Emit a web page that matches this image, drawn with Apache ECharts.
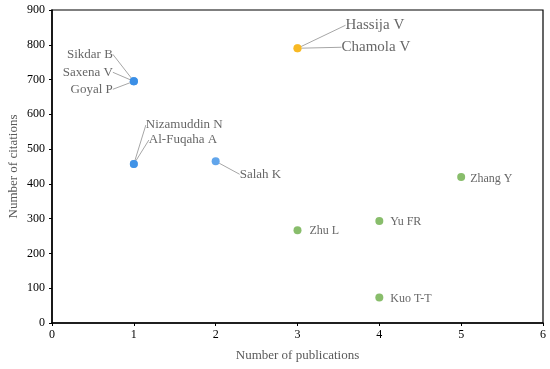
<!DOCTYPE html>
<html><head><meta charset="utf-8">
<script src="https://cdn.jsdelivr.net/npm/echarts@6/dist/echarts.min.js"></script>
<style>html,body{margin:0;padding:0;background:#fff}#c{width:550px;height:369px}</style>
</head><body><div id="c"></div>
<script>
// Data
const blueNames = ['Sikdar B','Saxena V','Goyal P','Nizamuddin N','Al-Fuqaha A','Salah K'];
const blueValues = [[1,695],[1,695],[1,695],[1,457],[1,457],[2,465]];
const yellowNames = ['Hassija V','Chamola V'];
const yellowValues = [[3,790],[3,790]];
const greenNames = ['Zhang Y','Yu FR','Zhu L','Kuo T-T'];
const greenValues = [[5,420],[4,293],[3,267],[4,73]];
const xTicks = [0,1,2,3,4,5,6];
const yTicks = [0,100,200,300,400,500,600,700,800,900];

// label offsets (style)
const offsets = {
  'Sikdar B':[-19,-27,'right',true],
  'Saxena V':[-19,-9,'right',true],
  'Goyal P':[-19,8,'right',true],
  'Nizamuddin N':[10,-39,'left',true],
  'Al-Fuqaha A':[13,-24,'left',true],
  'Salah K':[22,13,'left',true],
  'Hassija V':[46,-23,'left',true],
  'Chamola V':[42,-1,'left',true],
  'Zhang Y':[7,2,'left',false],
  'Yu FR':[9,1,'left',false],
  'Zhu L':[10,1,'left',false],
  'Kuo T-T':[9,1,'left',false]
};
const font = 'Liberation Serif';
function items(names, vals){
  return names.map((n,i)=>({name:n,value:vals[i],labelLine:{show:offsets[n][3]}}));
}
function layout(params){
  const r = params.rect;
  const o = offsets[params.text] || [0,0,'left'];
  return {x:r.x+r.width/2+o[0], y:r.y+r.height/2+o[1], align:o[2], verticalAlign:'middle'};
}
function series(names, vals, color, fs){
  return {
    type:'scatter', symbolSize:8, itemStyle:{color:color},
    data: items(names, vals),
    label:{show:true, formatter:'{b}', fontFamily:font, fontSize:fs, color:'#404040', padding:[0,2]},
    labelLine:{show:true, lineStyle:{color:'#a6a6a6', width:1}},
    labelLayout: layout
  };
}
const chart = echarts.init(document.getElementById('c'));
chart.setOption({
  animation:false,
  grid:{left:52,right:7,top:10,bottom:46,containLabel:false,outerBoundsMode:'none'},
  xAxis:{type:'value',min:xTicks[0],max:xTicks[xTicks.length-1],interval:1,
    name:'Number of publications',nameLocation:'middle',nameGap:26,nameMoveOverlap:false,
    nameTextStyle:{fontFamily:font,fontSize:13,color:'#595959'},
    axisLine:{show:true,onZero:false,lineStyle:{color:'#000',width:1.5}},
    axisTick:{show:true,length:3,lineStyle:{color:'#000'}},
    axisLabel:{fontFamily:font,fontSize:12,color:'#000',margin:6},
    splitLine:{show:false}},
  yAxis:{type:'value',min:yTicks[0],max:yTicks[yTicks.length-1],interval:100,
    name:'Number of citations',nameLocation:'middle',nameGap:32,nameMoveOverlap:false,
    nameTextStyle:{fontFamily:font,fontSize:13,color:'#595959'},
    axisLine:{show:true,lineStyle:{color:'#000',width:1.5}},
    axisTick:{show:true,length:3,lineStyle:{color:'#000'}},
    axisLabel:{fontFamily:font,fontSize:12,color:'#000',margin:7},
    splitLine:{show:false}},
  series:[
    series(blueNames, blueValues, '#3a8ee6', 13),
    series(yellowNames, yellowValues, '#f7b71c', 15),
    series(greenNames, greenValues, '#6aac46', 12)
  ]
});
// frame around plot area
const g = chart.getModel().getComponent('grid').coordinateSystem.getRect();
chart.setOption({graphic:[{type:'rect',shape:{x:g.x,y:g.y,width:g.width,height:g.height},
  style:{fill:'none',stroke:'#000',lineWidth:1.2},silent:true,z:-1}]});
</script></body></html>
